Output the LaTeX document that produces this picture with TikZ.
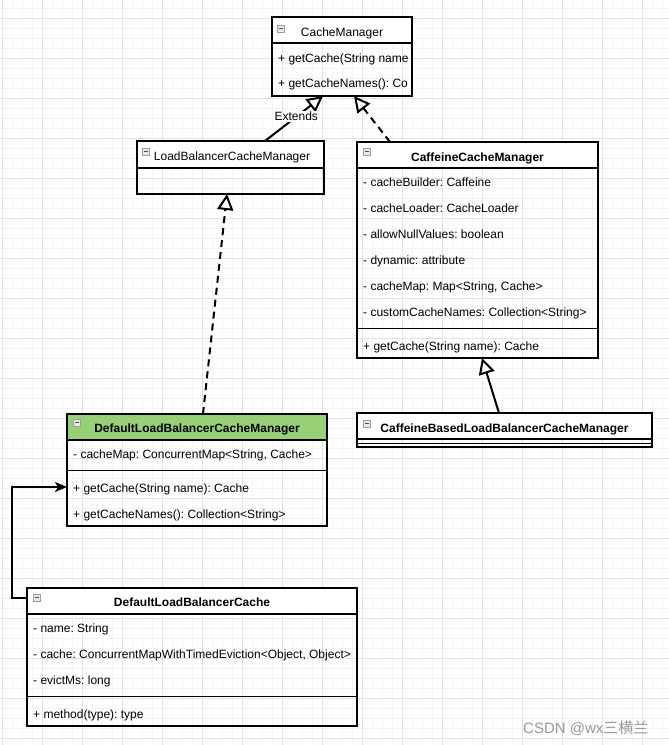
\documentclass[tikz,border=0pt]{standalone}
\usepackage{fontspec}
\setmainfont{Liberation Sans}
\newfontfamily\cjkfont{Noto Sans CJK SC}
\usetikzlibrary{arrows.meta}
\frenchspacing

\definecolor{gridmajor}{RGB}{226,226,226}
\definecolor{gridminor}{RGB}{244,244,244}
\definecolor{headgreen}{HTML}{97D077}

\tikzset{
  classbox/.style={draw=black, line width=2pt, anchor=north west, inner sep=0pt, outer sep=0pt},
  headline/.style={black, line width=2pt},
  sepline/.style={black, line width=1pt},
  classname/.style={anchor=base, inner sep=0pt, font=\fontsize{12}{14}\selectfont},
  classnamebold/.style={classname, font=\fontsize{12}{14}\selectfont\bfseries},
  member/.style={anchor=base west, inner sep=0pt, font=\fontsize{12}{14}\selectfont},
  iconbox/.style={draw=gray!75, fill=gray!18, line width=0.6pt},
  icondash/.style={draw=black!70, line width=0.8pt},
  extendsline/.style={line width=2pt, -{Triangle[open, length=16pt, width=16pt]}},
  realizeline/.style={extendsline, dash pattern=on 7pt off 5pt},
  assocline/.style={line width=2pt, -{Stealth[length=12pt, width=10pt, inset=3pt]}},
  edgelabel/.style={fill=white, inner sep=1pt, font=\fontsize{12}{14}\selectfont}
}

\begin{document}
\begin{tikzpicture}[x=1pt, y=-1pt]
  \useasboundingbox (0,0) rectangle (669,745);
  \fill[white] (0,0) rectangle (669,745);

  % background grid
  \foreach \gx in {2,12,...,668} \draw[gridminor, line width=1pt] (\gx,0) -- (\gx,745);
  \foreach \gy in {8,18,...,745} \draw[gridminor, line width=1pt] (0,\gy) -- (669,\gy);
  \foreach \gx in {2,42,...,668} \draw[gridmajor, line width=1pt] (\gx,0) -- (\gx,745);
  \foreach \gy in {18,58,...,745} \draw[gridmajor, line width=1pt] (0,\gy) -- (669,\gy);

  % CacheManager
  \fill[white] (272,17) rectangle (412,43);
  \node[classbox, minimum width=140pt, minimum height=79pt] (cm) at (272,17) {};
  \draw[headline] (272,43) -- (412,43);
  \draw[iconbox] (277,25) rectangle ++(7,7);
  \draw[icondash] (278.5,28.5) -- ++(4,0);
  \node[classname] (cm-name) at (342,36.5) {CacheManager};
  \node[member] (cm-m1) at (278,62) {+ getCache(String name};
  \node[member] (cm-m2) at (278,87.5) {+ getCacheNames(): Co};

  % LoadBalancerCacheManager
  \fill[white] (137,141) rectangle (324,168);
  \node[classbox, minimum width=187pt, minimum height=53pt] (lb) at (137,141) {};
  \draw[headline] (137,168) -- (324,168);
  \draw[iconbox] (142,148) rectangle ++(7,7);
  \draw[icondash] (143.5,151.5) -- ++(4,0);
  \node[classname] (lb-name) at (232,160.5) {LoadBalancerCacheManager};

  % CaffeineCacheManager
  \fill[white] (357,142) rectangle (598,168);
  \node[classbox, minimum width=241pt, minimum height=216pt] (caff) at (357,142) {};
  \draw[headline] (357,168) -- (598,168);
  \draw[sepline] (357,328) -- (598,328);
  \draw[iconbox] (363,148) rectangle ++(7,7);
  \draw[icondash] (364.5,151.5) -- ++(4,0);
  \node[classnamebold] (caff-name) at (477.5,161) {CaffeineCacheManager};
  \node[member] (caff-a1) at (363,186) {- cacheBuilder: Caffeine};
  \node[member] (caff-a2) at (363,212) {- cacheLoader: CacheLoader};
  \node[member] (caff-a3) at (363,238) {- allowNullValues: boolean};
  \node[member] (caff-a4) at (363,264) {- dynamic: attribute};
  \node[member] (caff-a5) at (363,290) {- cacheMap: Map<String, Cache>};
  \node[member] (caff-a6) at (363,316) {- customCacheNames: Collection<String>};
  \node[member] (caff-m1) at (363,350) {+ getCache(String name): Cache};

  % DefaultLoadBalancerCacheManager
  \fill[headgreen] (67,414) rectangle (327,440);
  \node[classbox, minimum width=260pt, minimum height=112pt] (dlbcm) at (67,414) {};
  \draw[headline] (67,440) -- (327,440);
  \draw[sepline] (67,470) -- (327,470);
  \draw[iconbox] (73,419) rectangle ++(7,7);
  \draw[icondash] (74.5,422.5) -- ++(4,0);
  \node[classnamebold] (dlbcm-name) at (197,432) {DefaultLoadBalancerCacheManager};
  \node[member] (dlbcm-a1) at (73,458) {- cacheMap: ConcurrentMap<String, Cache>};
  \node[member] (dlbcm-m1) at (73,492) {+ getCache(String name): Cache};
  \node[member] (dlbcm-m2) at (73,518) {+ getCacheNames(): Collection<String>};

  % CaffeineBasedLoadBalancerCacheManager
  \fill[white] (357,413) rectangle (652,439);
  \node[classbox, minimum width=295pt, minimum height=34pt] (cb) at (357,413) {};
  \draw[headline] (357,439) -- (652,439);
  \draw[sepline] (357,443) -- (652,443);
  \draw[iconbox] (363,420) rectangle ++(7,7);
  \draw[icondash] (364.5,423.5) -- ++(4,0);
  \node[classnamebold] (cb-name) at (504.5,432) {CaffeineBasedLoadBalancerCacheManager};

  % DefaultLoadBalancerCache
  \fill[white] (27,588) rectangle (357,614);
  \node[classbox, minimum width=330pt, minimum height=138pt] (dlbc) at (27,588) {};
  \draw[headline] (27,614) -- (357,614);
  \draw[sepline] (27,696) -- (357,696);
  \draw[iconbox] (33,594) rectangle ++(7,7);
  \draw[icondash] (34.5,597.5) -- ++(4,0);
  \node[classnamebold] (dlbc-name) at (192,606) {DefaultLoadBalancerCache};
  \node[member] (dlbc-a1) at (33,632) {- name: String};
  \node[member] (dlbc-a2) at (33,658) {- cache: ConcurrentMapWithTimedEviction<Object, Object>};
  \node[member] (dlbc-a3) at (33,684) {- evictMs: long};
  \node[member] (dlbc-m1) at (33,718) {+ method(type): type};

  % relations
  \draw[extendsline] ([xshift=34.5pt]lb.north) -- node[edgelabel, pos=0.54] (ext-label) {Extends} ([xshift=-19pt]cm.south);
  \draw[realizeline] ([xshift=-87.5pt]caff.north) -- ([xshift=12pt]cm.south);
  \draw[realizeline] ([xshift=6pt]dlbcm.north) -- ([xshift=-3.5pt]lb.south);
  \draw[extendsline] ([xshift=-5.5pt]cb.north) -- ([xshift=4.5pt]caff.south);
  \draw[assocline] ([yshift=-10pt]dlbc.north west) -- ++(-15,0) |- ([yshift=-17pt]dlbcm.west);

  % watermark
  \node[anchor=base west, inner sep=0pt, text=gray!80, font=\fontsize{15}{17}\selectfont] (mark) at (523,733) {CSDN @wx{\cjkfont 三横兰}};
\end{tikzpicture}
\end{document}
